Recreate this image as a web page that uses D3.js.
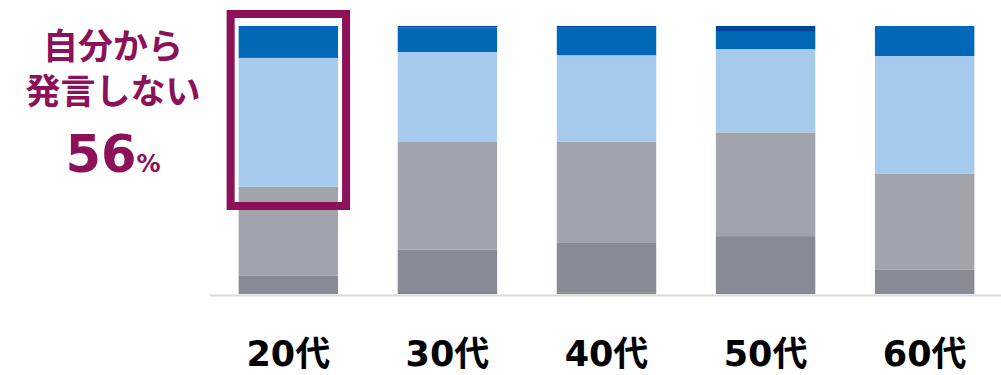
<!DOCTYPE html>
<html>
<head>
<meta charset="utf-8">
<script src="https://cdn.jsdelivr.net/npm/d3@7"></script>
<style>
  body { margin: 0; background: #fff; }
  svg { display: block; font-family: "Noto Sans CJK JP", "Noto Sans", sans-serif; }
</style>
</head>
<body>
<div id="chart"></div>
<script>
// data (percent shares, bottom to top)
const ages = ["20代", "30代", "40代", "50代", "60代"];
const seg0 = [0.0, 0.7, 0.6, 0.4, 0.0];     // thin darkest gray
const seg1 = [6.8, 15.9, 18.7, 21.2, 9.0];  // dark gray
const seg2 = [33.2, 40.1, 37.5, 38.7, 35.8]; // gray
const seg3 = [48.1, 33.6, 32.3, 31.1, 44.0]; // light blue
const seg4 = [11.9, 9.2, 10.5, 6.4, 11.2];  // blue
const seg5 = [0.0, 0.5, 0.4, 2.2, 0.0];     // navy
const segKeys = ["s0", "s1", "s2", "s3", "s4", "s5"];
const segColors = ["#7b7f87", "#878b93", "#a0a4ab", "#a6caeb", "#0068b7", "#00459a"];

const calloutLines = ["自分から", "発言しない"];
const calloutValue = "56";

const width = 1001, height = 375;

const svg = d3.select("#chart")
  .append("svg")
  .attr("width", width)
  .attr("height", height);

const rows = ages.map((a, i) => ({
  age: a, s0: seg0[i], s1: seg1[i], s2: seg2[i], s3: seg3[i], s4: seg4[i], s5: seg5[i]
}));

const x = d3.scaleBand()
  .domain(ages)
  .range([210, 1003])
  .paddingInner(0.375)
  .paddingOuter(0.18);

const y = d3.scaleLinear()
  .domain([0, 100])
  .range([294, 26]);

const color = d3.scaleOrdinal().domain(segKeys).range(segColors);

const stacked = d3.stack().keys(segKeys)(rows);

svg.append("g")
  .selectAll("g")
  .data(stacked)
  .join("g")
  .attr("fill", d => color(d.key))
  .selectAll("rect")
  .data(d => d)
  .join("rect")
  .attr("x", d => x(d.data.age))
  .attr("width", x.bandwidth())
  .attr("y", d => y(d[1]))
  .attr("height", d => y(d[0]) - y(d[1]));

// baseline
svg.append("line")
  .attr("x1", 210).attr("x2", width)
  .attr("y1", 295.5).attr("y2", 295.5)
  .attr("stroke", "#d9d9d9")
  .attr("stroke-width", 2);

// x labels
svg.append("g")
  .selectAll("text")
  .data(ages)
  .join("text")
  .attr("x", d => x(d) + x.bandwidth() / 2)
  .attr("y", 366)
  .attr("text-anchor", "middle")
  .attr("font-family", "'DejaVu Sans', 'Noto Sans CJK JP', sans-serif")
  .attr("font-size", "35px")
  .attr("font-weight", "bold")
  .attr("fill", "#000")
  .text(d => d);

// highlight box around 20代
const hx = x(ages[0]);
svg.append("rect")
  .attr("x", hx - 8)
  .attr("y", 14)
  .attr("width", x.bandwidth() + 16)
  .attr("height", 192)
  .attr("fill", "none")
  .attr("stroke", "#8c1158")
  .attr("stroke-width", 8);

// callout text (two lines in one text element)
const callout = svg.append("g").attr("fill", "#8c1158").attr("font-weight", "bold");
callout.append("text")
  .attr("text-anchor", "middle")
  .attr("font-size", "35px")
  .selectAll("tspan")
  .data(calloutLines)
  .join("tspan")
  .attr("x", 113)
  .attr("y", (d, i) => 59 + i * 45)
  .text(d => d);

const val = callout.append("text")
  .attr("x", 113)
  .attr("y", 172)
  .attr("text-anchor", "middle")
  .attr("font-family", "'DejaVu Sans', sans-serif");
val.append("tspan").attr("font-size", "51px").text(calloutValue);
val.append("tspan").attr("font-size", "24px").text("%");
</script>
</body>
</html>
